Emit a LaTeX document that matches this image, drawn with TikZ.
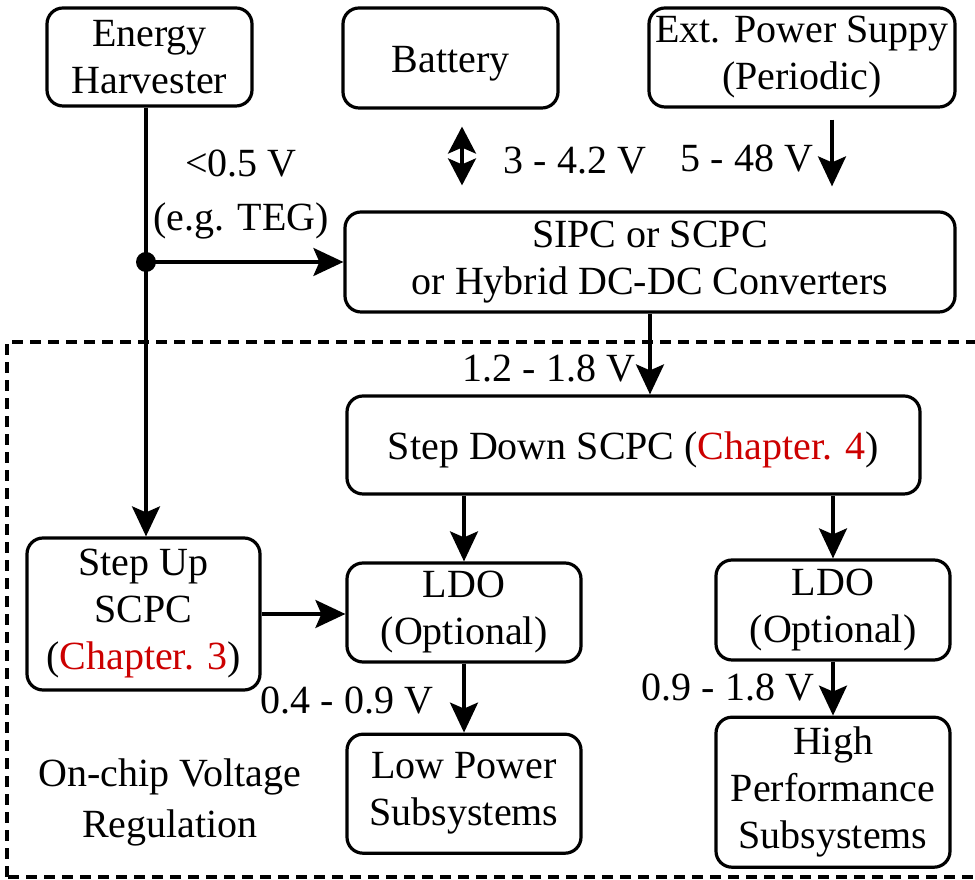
\documentclass[tikz,border=0pt]{standalone}
\usepackage{fontspec}
\setmainfont{Liberation Serif}
\usepackage{xcolor}
\usetikzlibrary{arrows.meta,positioning}
\definecolor{chap}{RGB}{204,0,0}

\begin{document}
\begin{tikzpicture}[x=1pt, y=1pt, every node/.style={font=\fontsize{40}{47}\selectfont},
  box/.style={draw, line width=3.2pt, rounded corners=16pt, align=center, inner sep=0pt,
    execute at begin node=\rule{0pt}{38pt}},
  arr/.style={line width=3.2pt, -{Stealth[length=30pt, width=28pt, inset=6pt]}},
  dbl/.style={line width=3.2pt, {Stealth[length=27pt, width=28pt, inset=6pt]}-{Stealth[length=27pt, width=28pt, inset=6pt]}},
  lbl/.style={align=center, inner sep=0pt}]
\clip (0,0) rectangle (975,880);
% sources
\node[box, minimum width=205pt, minimum height=98pt] (eh) at (149.5,823) {Energy\\Harvester};
\node[box, minimum width=215pt, minimum height=100pt] (bat) at (450.5,822) {Battery};
\node[box, minimum width=306pt, minimum height=99pt] (ext) at (802,822.5) {Ext. Power Suppy\\(Periodic)};
\node[box, minimum width=610pt, minimum height=100pt] (conv) at (650,618) {SIPC or SCPC\\or Hybrid DC-DC Converters};
% on-chip part
\node[box, minimum width=573pt, minimum height=98pt] (sdn) at (633.5,435) {Step Down SCPC (\textcolor{chap}{Chapter. 4})};
\node[box, minimum width=233pt, minimum height=152pt] (sup) at (143.5,266) {Step Up\\SCPC\\(\textcolor{chap}{Chapter. 3})};
\node[box, minimum width=234pt, minimum height=99pt] (ldoL) at (464,267.5) {LDO\\(Optional)};
\node[box, minimum width=234pt, minimum height=100pt] (ldoR) at (833,270) {LDO\\(Optional)};
\node[box, minimum width=234pt, minimum height=119pt, below=69pt of ldoL] (lps) {Low Power\\Subsystems};
\node[box, minimum width=234pt, minimum height=150pt, below=54pt of ldoR] (hps) {High\\Performance\\Subsystems};
% voltage labels
\node[lbl] (vteg) at (241,685) {<0.5 V\\[7pt](e.g. TEG)};
\node[lbl] (vbat) at (575,719) {3 - 4.2 V};
\node[lbl] (vext) at (747,721) {5 - 48 V};
\node[lbl] (vconv) at (549,511) {1.2 - 1.8 V};
\node[lbl] (vlow) at (347,179) {0.4 - 0.9 V};
\node[lbl] (vhigh) at (728,192) {0.9 - 1.8 V};
\node[lbl] (onchip) at (170,78) {On-chip Voltage\\[4pt]Regulation};
% connectors
\coordinate (tap) at (146,618);
\coordinate (batx) at (462,0);
\coordinate (extx) at (832,0);
\draw[arr] (eh.south -| tap) -- (sup.north -| tap);
\draw[arr] (tap) -- (conv.west);
\fill (tap) circle (10pt);
\draw[dbl, shorten <=17pt, shorten >=25pt] (bat.south -| batx) -- (conv.north -| batx);
\draw[arr, shorten <=11pt, shorten >=24pt] (ext.south -| extx) -- (conv.north -| extx);
\draw[arr] (conv.south) -- (conv.south |- sdn.north);
\draw[arr] (sdn.south -| ldoL) -- (ldoL.north);
\draw[arr] (sdn.south -| ldoR) -- (ldoR.north);
\draw[arr] (sup.east) -- (sup.east -| ldoL.west);
\draw[arr] (ldoL) -- (lps);
\draw[arr] (ldoR) -- (hps);
% on-chip boundary
\draw[line width=3.2pt, dash pattern=on 11pt off 7pt] (7,3) rectangle (990,538);
\end{tikzpicture}
\end{document}
